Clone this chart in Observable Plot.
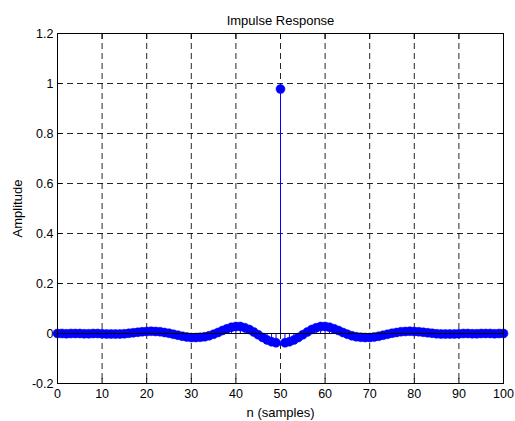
<!DOCTYPE html>
<html>
<head>
<meta charset="utf-8">
<script src="https://cdn.jsdelivr.net/npm/d3@7"></script>
<script src="https://cdn.jsdelivr.net/npm/@observablehq/plot@0.6"></script>
<style>
  html, body { margin: 0; padding: 0; background: #fff; }
  svg { display: block; }
</style>
</head>
<body>
<div id="chart"></div>
<script>
const title = "Impulse Response";
const xLabel = "n (samples)";
const yLabel = "Amplitude";
const xTicks = [0, 10, 20, 30, 40, 50, 60, 70, 80, 90, 100];
const yTicks = [-0.2, 0, 0.2, 0.4, 0.6, 0.8, 1, 1.2];
const xGrid = [10, 20, 30, 40, 50, 60, 70, 80, 90];
const yGrid = [0.2, 0.4, 0.6, 0.8, 1];

// h[n], n = 0..100
const amplitude = [
  0.000, 0.000, -0.001, 0.000, 0.000, 0.000, -0.001, -0.001, 0.000, 0.000,
  -0.001, -0.002, -0.002, -0.002, -0.002, -0.001, 0.001, 0.003, 0.005, 0.007,
  0.008, 0.009, 0.008, 0.007, 0.004, 0.001, -0.003, -0.007, -0.011, -0.014,
  -0.016, -0.016, -0.015, -0.013, -0.009, -0.003, 0.004, 0.012, 0.019, 0.025,
  0.028, 0.028, 0.023, 0.016, 0.006, -0.005, -0.016, -0.026, -0.033, -0.037,
  0.978,
  -0.037, -0.033, -0.026, -0.016, -0.005, 0.006, 0.016, 0.023, 0.028, 0.028,
  0.025, 0.019, 0.012, 0.004, -0.003, -0.009, -0.013, -0.015, -0.016, -0.016,
  -0.014, -0.011, -0.007, -0.003, 0.001, 0.004, 0.007, 0.008, 0.009, 0.008,
  0.007, 0.005, 0.003, 0.001, -0.001, -0.002, -0.002, -0.002, -0.002, -0.001,
  0.000, 0.000, -0.001, -0.001, 0.000, 0.000, 0.000, -0.001, 0.000, 0.000
];
const samples = amplitude.map((v, i) => ({n: i, v}));

const blue = "#0000ff";
const dash = "6,4";

const chart = Plot.plot({
  width: 515,
  height: 421,
  marginLeft: 57,
  marginRight: 12,
  marginTop: 33,
  marginBottom: 38,
  style: {fontFamily: "'Liberation Sans', Arial, sans-serif", fontSize: "12px", color: "black", background: "white"},
  x: {domain: [0, 100]},
  y: {domain: [-0.2, 1.2]},
  marks: [
    Plot.gridX(xGrid, {stroke: "black", strokeOpacity: 0.85, strokeDasharray: dash}),
    Plot.gridY(yGrid, {stroke: "black", strokeOpacity: 0.85, strokeDasharray: dash}),
    Plot.ruleX(samples, {x: "n", y1: 0, y2: "v", stroke: blue, strokeWidth: 1}),
    Plot.dot(samples, {x: "n", y: "v", r: 4.5, fill: blue, stroke: blue, strokeWidth: 0.5}),
    Plot.ruleY([0], {stroke: "black", strokeWidth: 1}),
    Plot.axisX({ticks: xTicks, tickSize: 0, tickPadding: 6, fontSize: 12.5, label: null, tickFormat: d => String(d)}),
    Plot.axisX({ticks: [], label: xLabel, labelAnchor: "center", labelOffset: 33, labelArrow: "none", fontSize: 13}),
    Plot.axisX({ticks: xTicks, anchor: "bottom", tickSize: -5, tickFormat: () => "", label: null}),
    Plot.axisX({ticks: xTicks, anchor: "top", tickSize: -5, tickFormat: () => "", label: null}),
    Plot.axisY({ticks: yTicks, tickSize: 0, tickPadding: 4, fontSize: 12.5, label: null, tickFormat: d => String(d)}),
    Plot.axisY({ticks: [], label: yLabel, labelAnchor: "center", labelOffset: 45, labelArrow: "none", fontSize: 13}),
    Plot.axisY({ticks: yTicks, anchor: "left", tickSize: -5, tickFormat: () => "", label: null}),
    Plot.axisY({ticks: yTicks, anchor: "right", tickSize: -5, tickFormat: () => "", label: null}),
    Plot.frame({stroke: "black", strokeWidth: 1}),
    Plot.text([title], {frameAnchor: "top", dy: -18, fontSize: 13, fill: "black"})
  ]
});
document.getElementById("chart").appendChild(chart);
</script>
</body>
</html>
